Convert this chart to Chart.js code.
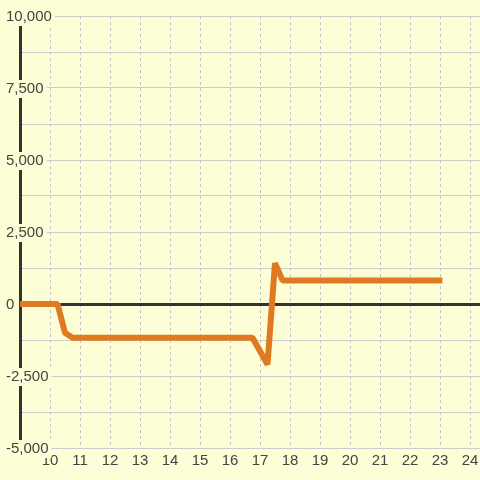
<!DOCTYPE html>
<html>
<head>
<meta charset="utf-8">
<script src="https://cdn.jsdelivr.net/npm/chart.js@4"></script>
<style>
  html, body { margin: 0; padding: 0; background: #fdfdd6; }
  #wrap { width: 480px; height: 480px; }
</style>
</head>
<body>
<div id="wrap"><canvas id="lineChart"></canvas></div>
<script>
// 시간(x)과 값(y)
const hours = [8.9, 10.25, 10.5, 10.75, 16.75, 17.25, 17.5, 17.75, 23.08];
const values = [0, 0, -1000, -1170, -1170, -2100, 1420, 820, 820];

const xTicks = [10, 11, 12, 13, 14, 15, 16, 17, 18, 19, 20, 21, 22, 23, 24];
const yTicks = [-5000, -3750, -2500, -1250, 0, 1250, 2500, 3750, 5000, 6250, 7500, 8750, 10000];
const yLabeled = [-5000, -2500, 0, 2500, 5000, 7500, 10000];

const bg = '#fdfdd6';
const font = { family: "'Liberation Sans', Arial, sans-serif", size: 15 };
const isLabeled = (ctx) => !!(ctx.tick && yLabeled.includes(ctx.tick.value));

const data = {
  datasets: [
    {
      data: hours.map((h, i) => ({ x: h, y: values[i] })),
      borderColor: '#df7a22',
      borderWidth: 6,
      borderJoinStyle: 'bevel',
      pointRadius: 0,
      tension: 0,
      fill: false,
    },
  ],
};

const config = {
  type: 'line',
  data,
  options: {
    responsive: true,
    maintainAspectRatio: false,
    animation: false,
    layout: { padding: { left: 20, top: 16, right: 0, bottom: 6 } },
    plugins: {
      legend: { display: false },
      tooltip: { enabled: false },
    },
    scales: {
      x: {
        type: 'linear',
        min: 9,
        max: 24 + 1 / 3,
        afterBuildTicks: (scale) => {
          scale.ticks = xTicks.map((v) => ({ value: v }));
        },
        afterFit: (scale) => {
          scale.paddingLeft = 0;
          scale.paddingRight = 0;
        },
        grid: { color: '#c4c4c4', lineWidth: 1, drawTicks: false },
        border: { display: false, dash: [3, 3] },
        ticks: { color: '#444', font, padding: 4, maxRotation: 0, autoSkip: false },
      },
      y: {
        min: -5000,
        max: 10000,
        afterBuildTicks: (scale) => {
          scale.ticks = yTicks.map((v) => ({ value: v }));
        },
        afterFit: (scale) => {
          scale.width = 0;
        },
        grid: {
          color: (ctx) => (ctx.tick && ctx.tick.value === 0 ? '#333' : '#cccccc'),
          lineWidth: (ctx) => (ctx.tick && ctx.tick.value === 0 ? 3 : 1),
          drawTicks: false,
        },
        border: { display: true, color: '#333', width: 3 },
        ticks: {
          mirror: true,
          crossAlign: 'near',
          padding: -14,
          labelOffset: 1,
          color: '#444',
          font,
          autoSkip: false,
          showLabelBackdrop: isLabeled,
          backdropColor: (ctx) => (isLabeled(ctx) ? bg : 'rgba(0,0,0,0)'),
          backdropPadding: { x: 3, y: 0 },
          callback: (v) => (yLabeled.includes(v) ? v.toLocaleString('en-US') : ''),
        },
      },
    },
  },
};

const chartList = document.querySelectorAll('#lineChart');
chartList.forEach((el) => {
  new Chart(el, config);
});
</script>
</body>
</html>
